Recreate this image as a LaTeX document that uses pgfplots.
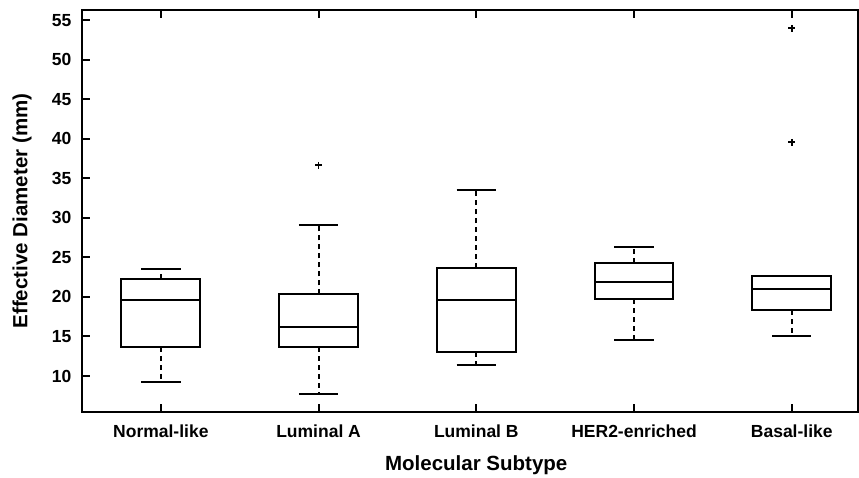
\documentclass[border=0pt]{standalone}
\usepackage{pgfplots}
\pgfplotsset{compat=1.18}
\usepgfplotslibrary{statistics}
\usepackage{fontspec}
\setmainfont{Liberation Sans}
\pgfplotsset{
  bp/.style={black, line width=2pt, mark=+, mark size=3.5pt,
    mark options={solid, line width=1.8pt},
    boxplot/draw direction=y,
    boxplot/box extend=0.5, boxplot/whisker extend=0,
    boxplot/every box/.style={solid, line width=2pt},
    boxplot/every median/.style={solid, line width=2pt},
    boxplot/every whisker/.style={line width=2pt, dash pattern=on 5pt off 4pt},
  },
  cap/.style={black, solid, line width=2pt, forget plot},
}
\begin{document}
\begin{tikzpicture}[line width=2pt]
\begin{axis}[
  scale only axis,
  width=776pt, height=402pt,
  xmin=0.5, xmax=5.42,
  ymin=5.45, ymax=56.3,
  every axis plot/.append style={line width=2pt},
  xtick={1,2,3,4,5},
  xticklabels={Normal-like,Luminal A,Luminal B,HER2-enriched,Basal-like},
  ytick={10,15,20,25,30,35,40,45,50,55},
  ytick pos=left,
  tick align=inside,
  major tick length=8pt,
  axis line style={line width=2pt},
  every tick/.style={black, line width=2pt},
  /pgf/number format/assume math mode=true,
  tick label style={font=\fontsize{17.5}{20}\bfseries\selectfont},
  xticklabel style={yshift=-9pt},
  yticklabel style={xshift=-7pt},
  every axis y label/.style={at={(axis description cs:-0.0773,0.5)},rotate=90,anchor=center,font=\fontsize{20.5}{24}\bfseries\selectfont},
  every axis x label/.style={at={(axis description cs:0.508,-0.1318)},anchor=center,font=\fontsize{20.5}{24}\bfseries\selectfont},
  ylabel={Effective Diameter (mm)},
  xlabel={Molecular Subtype},
]
\addplot[boxplot prepared={draw position=1, lower whisker=9.24, lower quartile=13.7, median=19.6, upper quartile=22.27, upper whisker=23.5}, bp] coordinates {};
\addplot[boxplot prepared={draw position=2, lower whisker=7.72, lower quartile=13.67, median=16.24, upper quartile=20.33, upper whisker=29.07}, bp] coordinates {(0,36.66)};
\addplot[boxplot prepared={draw position=3, lower whisker=11.43, lower quartile=13.0, median=19.6, upper quartile=23.66, upper whisker=33.49}, bp] coordinates {};
\addplot[boxplot prepared={draw position=4, lower whisker=14.55, lower quartile=19.74, median=21.89, upper quartile=24.34, upper whisker=26.32}, bp] coordinates {};
\addplot[boxplot prepared={draw position=5, lower whisker=15.02, lower quartile=18.35, median=21.0, upper quartile=22.61, upper whisker=22.61}, bp] coordinates {(0,39.57) (0,53.99)};
% whisker caps
\addplot[cap] coordinates {(0.875,9.24) (1.125,9.24)};
\addplot[cap] coordinates {(0.875,23.5) (1.125,23.5)};
\addplot[cap] coordinates {(1.875,7.72) (2.125,7.72)};
\addplot[cap] coordinates {(1.875,29.07) (2.125,29.07)};
\addplot[cap] coordinates {(2.875,11.43) (3.125,11.43)};
\addplot[cap] coordinates {(2.875,33.49) (3.125,33.49)};
\addplot[cap] coordinates {(3.875,14.55) (4.125,14.55)};
\addplot[cap] coordinates {(3.875,26.32) (4.125,26.32)};
\addplot[cap] coordinates {(4.875,15.02) (5.125,15.02)};
\end{axis}
\pgfresetboundingbox
\path (-82pt,-66pt) rectangle (777pt,412pt);
\end{tikzpicture}
\end{document}
